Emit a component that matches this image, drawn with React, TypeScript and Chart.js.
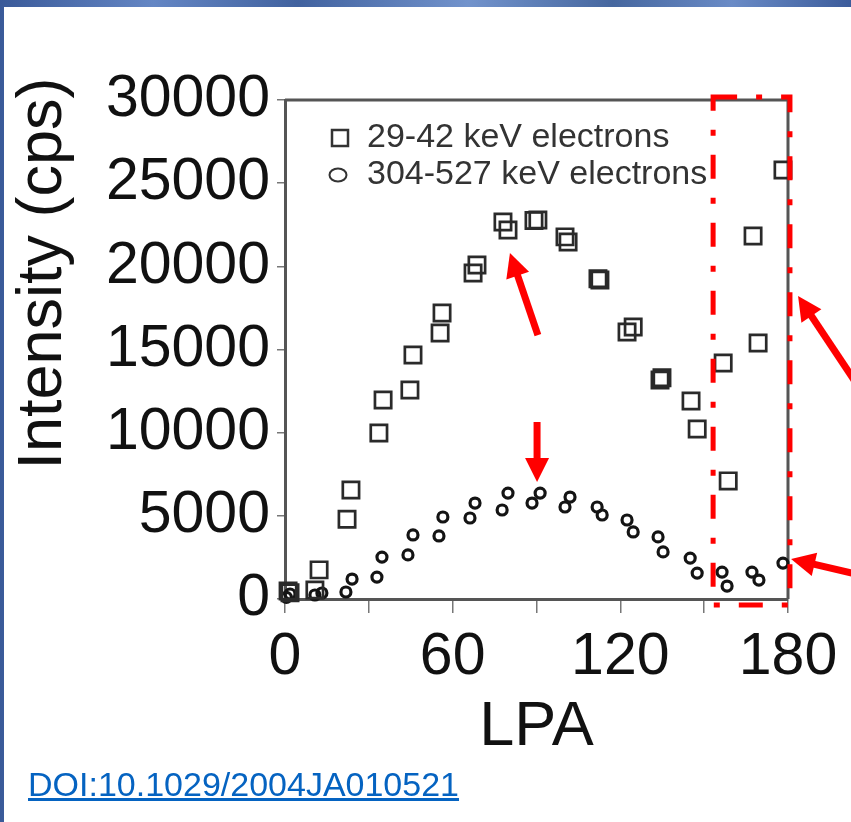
import React, { useEffect, useRef } from 'react';
import { Chart, registerables } from 'chart.js';

Chart.register(...registerables);

// ---- data ----
const seriesLowLabel = '29-42 keV electrons';
const seriesHighLabel = '304-527 keV electrons';

// 29-42 keV electrons, first and second measurement per LPA bin
const lpaLow1 = [1.1, 10.7, 22.2, 33.6, 44.7, 55.5, 67.3, 78.0, 89.1, 100.2, 112.0, 122.4, 134.2, 145.3, 156.8, 167.5, 178.2];
const intensityLow1 = [480, 540, 4800, 9980, 12560, 15990, 19600, 22670, 22750, 21770, 19250, 16050, 13170, 11900, 14190, 21820, 25790];
const lpaLow2 = [1.8, 12.2, 23.6, 35.1, 45.8, 56.2, 68.7, 79.8, 90.5, 101.3, 112.7, 124.6, 134.9, 147.5, 158.6, 169.3];
const intensityLow2 = [380, 1750, 6550, 11960, 14670, 17190, 20080, 22180, 22790, 21460, 19180, 16350, 13300, 10220, 7100, 15390];

// 304-527 keV electrons
const lpaHigh1 = [0.5, 10.7, 21.8, 32.9, 44.0, 55.1, 66.2, 77.7, 88.4, 100.2, 111.7, 122.4, 133.5, 145.0, 156.4, 167.1, 178.2];
const intensityHigh1 = [100, 240, 420, 1320, 2650, 3790, 4870, 5350, 5770, 5530, 5530, 4750, 3730, 2460, 1620, 1620, 2160];
const lpaHigh2 = [1.8, 13.2, 24.0, 34.7, 45.8, 56.5, 68.0, 79.8, 91.3, 102.0, 113.5, 124.6, 135.3, 147.5, 158.2, 169.6];
const intensityHigh2 = [300, 360, 1200, 2520, 3850, 4930, 5770, 6370, 6370, 6130, 5050, 4030, 2830, 1560, 780, 1140];

// axes
const lpaMin = 0;
const lpaMax = 180;
const lpaStep = 30;
const lpaLabelled = [0, 60, 120, 180];
const intensityMin = 0;
const intensityMax = 30000;
const intensityStep = 5000;
const xTitle = 'LPA';
const yTitle = 'Intensity (cps)';
const doiText = 'DOI:10.1029/2004JA010521';

// red annotations (in data units)
const highlightLPA = [153.2, 180.7];
const highlightIntensity = [-360, 30180];
// [fromLPA, fromIntensity, toLPA, toIntensity]
const arrowPeakLow = [90.5, 15870, 80.5, 20800];
const arrowPeakHigh = [90.2, 10640, 90.2, 7030];
const arrowEdgeLow = [205.8, 12625, 183.6, 18216];
const arrowEdgeHigh = [205.8, 1443, 181.1, 2405];
const arrows = [arrowPeakLow, arrowPeakHigh, arrowEdgeLow, arrowEdgeHigh];

const FONT = '"Liberation Sans", Arial, Helvetica, sans-serif';

const zip = (xs: number[], ys: number[]) => xs.map((x, i) => ({ x, y: ys[i] }));

function drawArrow(ctx: CanvasRenderingContext2D, x0: number, y0: number, x1: number, y1: number) {
  const headLen = 24;
  const headHalf = 12;
  const ang = Math.atan2(y1 - y0, x1 - x0);
  const bx = x1 - headLen * Math.cos(ang);
  const by = y1 - headLen * Math.sin(ang);
  ctx.beginPath();
  ctx.lineWidth = 7;
  ctx.lineCap = 'butt';
  ctx.moveTo(x0, y0);
  ctx.lineTo(bx + Math.cos(ang) * 2, by + Math.sin(ang) * 2);
  ctx.stroke();
  ctx.beginPath();
  ctx.moveTo(x1, y1);
  ctx.lineTo(bx - headHalf * Math.sin(ang), by + headHalf * Math.cos(ang));
  ctx.lineTo(bx + headHalf * Math.sin(ang), by - headHalf * Math.cos(ang));
  ctx.closePath();
  ctx.fill();
}

const framePlugin = {
  id: 'frame',
  beforeDatasetsDraw(chart: any) {
    const { ctx, chartArea: ca } = chart;
    ctx.save();
    ctx.strokeStyle = '#555';
    ctx.lineWidth = 3;
    ctx.beginPath();
    ctx.moveTo(ca.left, ca.top);
    ctx.lineTo(ca.right, ca.top);
    ctx.lineTo(ca.right, ca.bottom);
    ctx.stroke();
    ctx.restore();
  },
};

const legendPlugin = {
  id: 'insideLegend',
  afterDatasetsDraw(chart: any) {
    const { ctx, chartArea: ca } = chart;
    const ds = chart.data.datasets;
    ctx.save();
    ctx.font = `34px ${FONT}`;
    ctx.textBaseline = 'middle';
    ctx.textAlign = 'left';
    const rows = [ca.top + 38, ca.top + 75];
    ctx.strokeStyle = '#333';
    ctx.lineWidth = 2.5;
    ctx.strokeRect(ca.left + 55 - 8, rows[0] - 8, 16, 16);
    ctx.beginPath();
    ctx.ellipse(ca.left + 53, rows[1], 8.5, 6.5, 0, 0, Math.PI * 2);
    ctx.lineWidth = 2;
    ctx.stroke();
    ctx.fillStyle = '#333';
    ctx.fillText(ds[0].label, ca.left + 82, rows[0]);
    ctx.fillText(ds[1].label, ca.left + 82, rows[1]);
    ctx.restore();
  },
};

const annotationPlugin = {
  id: 'redAnnotations',
  afterDraw(chart: any) {
    const { ctx, scales } = chart;
    const x = scales.x;
    const y = scales.y;
    ctx.save();
    // y title
    ctx.save();
    ctx.font = `63px ${FONT}`;
    ctx.fillStyle = '#111';
    ctx.textAlign = 'center';
    ctx.textBaseline = 'middle';
    ctx.translate(44, y.getPixelForValue(intensityMax * 0.5) - 76);
    ctx.rotate(-Math.PI / 2);
    ctx.fillText(yTitle, 0, 0);
    ctx.restore();

    ctx.strokeStyle = '#ff0000';
    ctx.fillStyle = '#ff0000';
    const l = x.getPixelForValue(highlightLPA[0]);
    const r = x.getPixelForValue(highlightLPA[1]);
    const t = y.getPixelForValue(highlightIntensity[1]);
    const b = y.getPixelForValue(highlightIntensity[0]);
    ctx.lineWidth = 5;
    ctx.setLineDash([24, 19, 6, 19]);
    ctx.strokeRect(l, t, r - l, b - t);
    ctx.setLineDash([]);
    for (const a of arrows) {
      drawArrow(
        ctx,
        x.getPixelForValue(a[0]),
        y.getPixelForValue(a[1]),
        x.getPixelForValue(a[2]),
        y.getPixelForValue(a[3])
      );
    }
    ctx.restore();
  },
};

export default function App() {
  const ref = useRef<HTMLCanvasElement>(null);

  useEffect(() => {
    document.body.style.margin = '0';
    const canvas = ref.current;
    if (!canvas) return;
    Chart.defaults.font.family = FONT;
    const chart = new Chart(canvas, {
      type: 'scatter',
      data: {
        datasets: [
          {
            label: seriesLowLabel,
            data: [...zip(lpaLow1, intensityLow1), ...zip(lpaLow2, intensityLow2)],
            pointStyle: 'rect',
            pointRadius: 11.5,
            pointBorderWidth: 2.7,
            borderColor: '#2a2a2a',
            backgroundColor: 'rgba(255,255,255,0)',
            clip: false as any,
          },
          {
            label: seriesHighLabel,
            data: [...zip(lpaHigh1, intensityHigh1), ...zip(lpaHigh2, intensityHigh2)],
            pointStyle: 'circle',
            pointRadius: 5,
            pointBorderWidth: 3.2,
            borderColor: '#141414',
            backgroundColor: 'rgba(255,255,255,0)',
            clip: false as any,
          },
        ],
      },
      options: {
        animation: false,
        responsive: false,
        devicePixelRatio: 1,
        layout: { padding: { left: 0, top: 100, right: 63, bottom: 0 } },
        plugins: {
          legend: { display: false },
          tooltip: { enabled: false },
        },
        events: [],
        scales: {
          x: {
            type: 'linear',
            min: lpaMin,
            max: lpaMax,
            afterFit: (s: any) => {
              s.height = 223;
            },
            ticks: {
              stepSize: lpaStep,
              autoSkip: false,
              maxRotation: 0,
              color: '#111',
              padding: 9,
              font: { size: 59 },
              callback: (v: any) => (lpaLabelled.includes(Number(v)) ? String(v) : ''),
            },
            grid: {
              drawOnChartArea: false,
              drawTicks: true,
              tickLength: 14,
              color: '#777',
              lineWidth: 1.5,
            },
            border: { display: true, color: '#555', width: 3 },
            title: {
              display: true,
              text: xTitle,
              color: '#111',
              font: { size: 63 },
              padding: { top: 0, bottom: 57 },
            },
          },
          y: {
            type: 'linear',
            min: intensityMin,
            max: intensityMax,
            afterFit: (s: any) => {
              s.width = 285;
            },
            ticks: {
              stepSize: intensityStep,
              color: '#111',
              padding: 7,
              font: { size: 59 },
              callback: (v: any) => String(v),
            },
            grid: {
              drawOnChartArea: false,
              drawTicks: true,
              tickLength: 8,
              color: '#777',
              lineWidth: 1.5,
            },
            border: { display: true, color: '#555', width: 3 },
            title: { display: false, text: yTitle },
          },
        },
      } as any,
      plugins: [framePlugin, legendPlugin, annotationPlugin],
    });
    return () => chart.destroy();
  }, []);

  return (
    <div
      style={{
        position: 'relative',
        width: 851,
        height: 822,
        overflow: 'hidden',
        background:
          'linear-gradient(90deg, #3a5a99 0%, #6486c4 18%, #41629f 35%, #7293cc 55%, #46679f 72%, #6a8bc6 86%, #3c5c9b 100%)',
      }}
    >
      <div style={{ position: 'absolute', left: 4, top: 7, right: 0, bottom: 0, background: '#ffffff' }} />
      <canvas
        ref={ref}
        width={851}
        height={822}
        style={{ position: 'absolute', left: 0, top: 0, width: 851, height: 822 }}
      />
      <div
        style={{
          position: 'absolute',
          left: 28,
          top: 767,
          fontFamily: FONT,
          fontSize: 34,
          lineHeight: '34px',
          color: '#0563c1',
          textDecoration: 'underline',
          whiteSpace: 'nowrap',
        }}
      >
        {doiText}
      </div>
    </div>
  );
}
